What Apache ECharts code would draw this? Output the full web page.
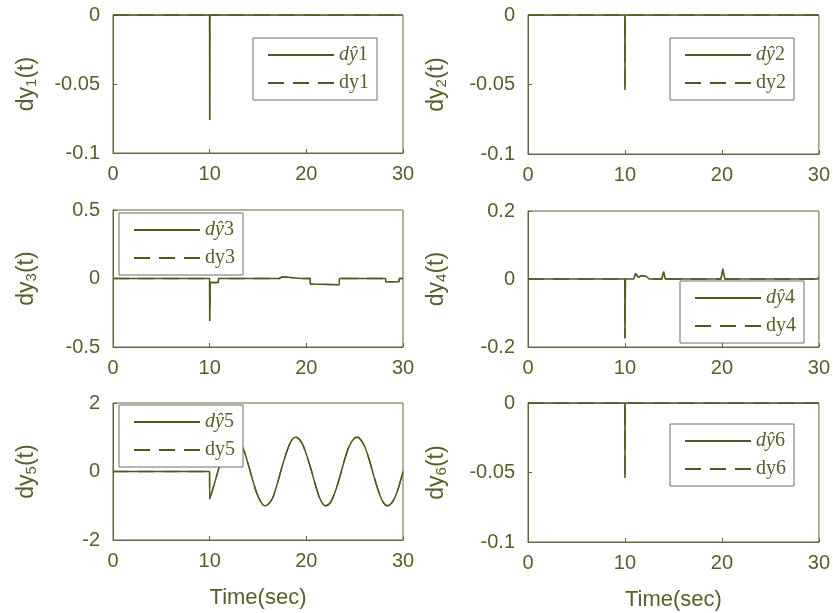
<!DOCTYPE html>
<html>
<head>
<meta charset="utf-8">
<script src="https://cdn.jsdelivr.net/npm/echarts@6/dist/echarts.min.js"></script>
<style>
  html, body { margin: 0; padding: 0; background: #ffffff; }
  #chart { width: 833px; height: 613px; }
</style>
</head>
<body>
<div id="chart"></div>
<script>
// Sensor fault signals dy1..dy6: estimated (solid) vs. actual (dashed), 0–30 s.
const xTicks = [0, 10, 20, 30];

const time1 = [0, 9.99, 10, 10.02, 30];
const dy1 = [0, 0, -0.076, 0, 0];

const time2 = [0, 9.99, 10, 10.02, 30];
const dy2 = [0, 0, -0.054, 0, 0];

const time3 = [0, 9.99, 10, 10.06, 10.9, 10.92, 17.2, 17.5, 19.5, 20.4, 20.42, 23.4, 23.42, 28.2, 28.22, 29.6, 29.62, 30];
const dy3 = [0, 0, -0.31, -0.028, -0.03, 0, 0, 0.012, 0, 0, -0.04, -0.045, 0, 0, -0.025, -0.022, 0, 0];

const time4 = [0, 9.99, 10, 10.05, 10.9, 11.1, 11.4, 11.7, 12.2, 12.5, 13.8, 14.0, 14.15, 19.9, 20.1, 20.3, 29.9, 30];
const dy4 = [0, 0, -0.174, 0, 0, 0.016, 0.005, 0.01, 0.008, 0, 0, 0.022, 0, 0, 0.03, 0, 0, 0.006];

// dy5: spike at 10 s, then a sinusoidal component
const time5a = [0, 9.99];
const dy5a = [0, 0];
const time5b = [9.99, 10, 10.5, 11, 11.5, 12, 12.6, 13, 13.5, 14, 14.5, 15, 15.7, 16, 16.5, 17, 17.5, 18, 18.5, 18.9, 19.5, 20, 20.5, 21, 21.5, 22, 22.5, 23, 23.5, 24, 24.5, 25.2, 25.5, 26, 26.5, 27, 27.5, 28, 28.4, 29, 29.5, 30];
const dy5b = [0, -0.8, -0.35, 0.15, 0.6, 0.9, 1.0, 0.93, 0.65, 0.2, -0.3, -0.72, -1.0, -0.97, -0.78, -0.35, 0.15, 0.6, 0.92, 1.0, 0.85, 0.5, 0.05, -0.45, -0.85, -1.0, -0.9, -0.58, -0.12, 0.38, 0.78, 1.0, 0.97, 0.75, 0.35, -0.15, -0.6, -0.92, -1.0, -0.85, -0.5, 0];

const time6 = [0, 9.99, 10, 10.02, 30];
const dy6 = [0, 0, -0.054, 0, 0];

const yRanges = [
  { min: -0.1, max: 0, interval: 0.05 },
  { min: -0.1, max: 0, interval: 0.05 },
  { min: -0.5, max: 0.5, interval: 0.5 },
  { min: -0.2, max: 0.2, interval: 0.2 },
  { min: -2, max: 2, interval: 2 },
  { min: -0.1, max: 0, interval: 0.05 }
];

const panels = [
  [{ t: time1, v: dy1 }], [{ t: time2, v: dy2 }],
  [{ t: time3, v: dy3 }], [{ t: time4, v: dy4 }],
  [{ t: time5a, v: dy5a }, { t: time5b, v: dy5b, smooth: 0.35 }],
  [{ t: time6, v: dy6 }]
];

const TEXT = '#56602a';
const LINE = '#4c5a1c';
const FRAME = '#62673f';

const grids = [
  { left: 113, top: 15, width: 290, height: 138 },
  { left: 528, top: 15, width: 291, height: 139 },
  { left: 113, top: 210, width: 290, height: 137 },
  { left: 528, top: 211, width: 291, height: 136 },
  { left: 113, top: 403, width: 290, height: 137 },
  { left: 528, top: 403, width: 291, height: 139 }
];

const legendPos = [
  { left: 253, top: 38 },
  { left: 670, top: 38 },
  { left: 119, top: 213 },
  { left: 680, top: 281 },
  { left: 119, top: 405 },
  { left: 670, top: 424 }
];

const axisFont = 'Liberation Sans, Arial';

const option = {
  backgroundColor: '#ffffff',
  animation: false,
  grid: grids.map(g => Object.assign({ show: true, borderColor: FRAME, borderWidth: 1, backgroundColor: 'transparent' }, g)),
  xAxis: grids.map((g, i) => ({
    type: 'value',
    gridIndex: i,
    min: 0, max: 30, interval: 10,
    axisLine: { show: true, onZero: false, lineStyle: { color: FRAME, width: 1 } },
    axisTick: { show: true, inside: true, length: 4, lineStyle: { color: FRAME } },
    splitLine: { show: false },
    axisLabel: { color: TEXT, fontFamily: axisFont, fontSize: 20, margin: 11,
      formatter: v => xTicks.includes(v) ? String(v) : '' },
    name: i >= 4 ? 'Time(sec)' : '',
    nameLocation: 'middle',
    nameGap: 47,
    nameTextStyle: { color: TEXT, fontFamily: axisFont, fontSize: 22 }
  })),
  yAxis: grids.map((g, i) => ({
    type: 'value',
    gridIndex: i,
    min: yRanges[i].min, max: yRanges[i].max, interval: yRanges[i].interval,
    axisLine: { show: true, onZero: false, lineStyle: { color: FRAME, width: 1 } },
    axisTick: { show: true, inside: true, length: 4, lineStyle: { color: FRAME } },
    splitLine: { show: false },
    axisLabel: { color: TEXT, fontFamily: axisFont, fontSize: 20, margin: 13 },
    name: '{a|dy}{s|' + (i + 1) + '}{a|(t)}',
    nameLocation: 'middle',
    nameRotate: 90,
    nameGap: i % 2 === 0 ? 74 : 79,
    nameTextStyle: {
      color: TEXT,
      rich: {
        a: { color: TEXT, fontFamily: axisFont, fontSize: 23 },
        s: { color: TEXT, fontFamily: axisFont, fontSize: 15, padding: [10, 0, 0, 0] }
      }
    }
  })),
  legend: legendPos.map((p, i) => ({
    left: p.left, top: p.top,
    orient: 'vertical',
    data: ['d\u0177' + (i + 1), 'dy' + (i + 1)],
    backgroundColor: '#ffffff',
    borderColor: '#6b6e66',
    borderWidth: 1,
    borderRadius: 0,
    padding: [7, 8, 7, 14],
    itemWidth: 66,
    itemHeight: 14,
    itemGap: 8,
    itemStyle: { opacity: 0 },
    selectedMode: false,
    formatter: name => name.charAt(1) === '\u0177'
      ? '{it|d\u0177}{rm|' + name.slice(2) + '}'
      : '{rm|' + name + '}',
    textStyle: {
      color: TEXT,
      rich: {
        it: { fontFamily: 'Liberation Serif, DejaVu Serif, serif', fontStyle: 'italic', fontSize: 20, color: TEXT },
        rm: { fontFamily: 'Liberation Serif, DejaVu Serif, serif', fontSize: 20, color: TEXT }
      }
    },
    z: 10
  })),
  series: []
};

panels.forEach((parts, i) => {
  ['dy' + (i + 1), 'd\u0177' + (i + 1)].forEach((name, s) => {
    parts.forEach(p => {
      option.series.push({
        name: name,
        type: 'line',
        xAxisIndex: i, yAxisIndex: i,
        data: p.t.map((t, k) => [t, p.v[k]]),
        symbol: 'none',
        smooth: p.smooth || false,
        lineStyle: { color: LINE, width: s ? 1.5 : 1.3, type: s ? 'solid' : [16, 9] },
        itemStyle: { color: LINE },
        z: 2 + s
      });
    });
  });
});

const chart = echarts.init(document.getElementById('chart'), null, { renderer: 'canvas' });
chart.setOption(option);
</script>
</body>
</html>
